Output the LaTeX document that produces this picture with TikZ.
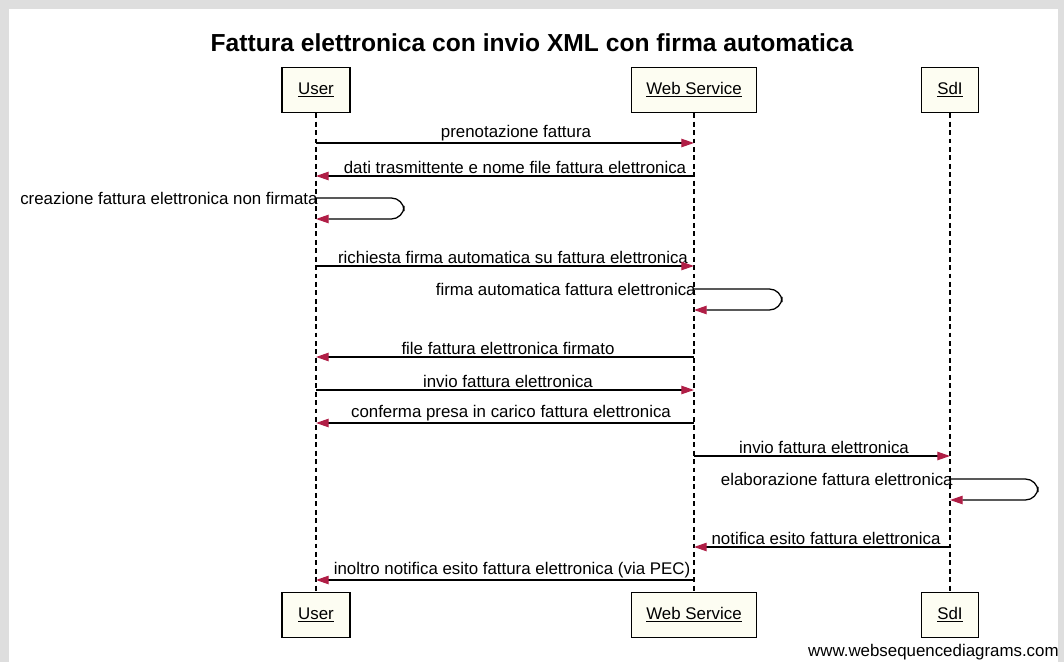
\documentclass[tikz,border=0pt]{standalone}
\usepackage{fontspec}
\setmainfont{Liberation Sans}
\usepackage{xcolor}
\usepackage{tikz}
\usetikzlibrary{arrows.meta}
\definecolor{SeqTip}{RGB}{176, 30, 70}
\definecolor{SeqBox}{RGB}{253, 253, 242}
\definecolor{SeqFrame}{RGB}{222, 222, 222}

\tikzset{
  actor/.style={draw=black, line width=1pt, fill=SeqBox, minimum height=1.125cm,
    font=\fontsize{12}{14}\selectfont},
  life/.style={black, line width=0.85pt, dash pattern=on 3.5pt off 2.5pt},
  msg/.style={black, line width=0.9pt, line join=round, -{Triangle[length=9pt, width=6pt, color=SeqTip]}},
  lbl/.style={font=\fontsize{12}{14}\selectfont, inner sep=1.5pt}
}

\begin{document}
\begin{tikzpicture}[x=0.025cm, y=-0.025cm]
    \useasboundingbox (0,0) rectangle (1064,662);
    % Frame
    \fill[SeqFrame] (0,0) rectangle (1064,662);
    \fill[white] (9,9) rectangle (1058,662);
    \node[font=\bfseries\fontsize{17.5}{20}\selectfont] (title) at (532,43) {Fattura elettronica con invio XML con firma automatica};

    % Participants
    \node[actor, minimum width=1.7cm] (usrtop) at (316,90) {\underline{User}};
    \node[actor, minimum width=3.125cm] (wstop) at (694,90) {\underline{Web Service}};
    \node[actor, minimum width=1.425cm] (sditop) at (950,90) {\underline{SdI}};
    \node[actor, minimum width=1.7cm] (usrbot) at (316,615) {\underline{User}};
    \node[actor, minimum width=3.125cm] (wsbot) at (694,615) {\underline{Web Service}};
    \node[actor, minimum width=1.425cm] (sdibot) at (950,615) {\underline{SdI}};
    \draw[life] (usrtop) -- (usrbot);
    \draw[life] (wstop) -- (wsbot);
    \draw[life] (sditop) -- (sdibot);

    % Messages
    \node[lbl, anchor=south] (m1) at (516,143) {prenotazione fattura};
    \draw[msg] (usrtop |- m1.south) -- (wstop |- m1.south);
    \node[lbl, anchor=south] (m2) at (515,176) {dati trasmittente e nome file fattura elettronica};
    \draw[msg] (wstop |- m2.south) -- (usrtop |- m2.south);
    \node[lbl, anchor=east] (s1) at (320,198) {creazione fattura elettronica non firmata};
    \draw[msg, rounded corners=9] (usrtop |- s1.east) -- ++(88,0) -- ++(0,21) -- ++(-88,0);
    \node[lbl, anchor=south] (m3) at (513,266) {richiesta firma automatica su fattura elettronica};
    \draw[msg] (usrtop |- m3.south) -- (wstop |- m3.south);
    \node[lbl, anchor=east] (s2) at (698,289) {firma automatica fattura elettronica};
    \draw[msg, rounded corners=9] (wstop |- s2.east) -- ++(88,0) -- ++(0,21) -- ++(-88,0);
    \node[lbl, anchor=south] (m4) at (508,357) {file fattura elettronica firmato};
    \draw[msg] (wstop |- m4.south) -- (usrtop |- m4.south);
    \node[lbl, anchor=south] (m5) at (508,390) {invio fattura elettronica};
    \draw[msg] (usrtop |- m5.south) -- (wstop |- m5.south);
    \node[lbl, anchor=south] (m6) at (511,423) {conferma presa in carico fattura elettronica};
    \draw[msg] (wstop |- m6.south) -- (usrtop |- m6.south);
    \node[lbl, anchor=south] (m7) at (824,456) {invio fattura elettronica};
    \draw[msg] (wstop |- m7.south) -- (sditop |- m7.south);
    \node[lbl, anchor=east] (s3) at (955,479) {elaborazione fattura elettronica};
    \draw[msg, rounded corners=9] (sditop |- s3.east) -- ++(88,0) -- ++(0,21) -- ++(-88,0);
    \node[lbl, anchor=south] (m8) at (826,547) {notifica esito fattura elettronica};
    \draw[msg] (sditop |- m8.south) -- (wstop |- m8.south);
    \node[lbl, anchor=south] (m9) at (512,580) {inoltro notifica esito fattura elettronica (via PEC)};
    \draw[msg] (wstop |- m9.south) -- (usrtop |- m9.south);

    \node[lbl, anchor=east] (wsd) at (1061,652) {www.websequencediagrams.com};
\end{tikzpicture}
\end{document}
